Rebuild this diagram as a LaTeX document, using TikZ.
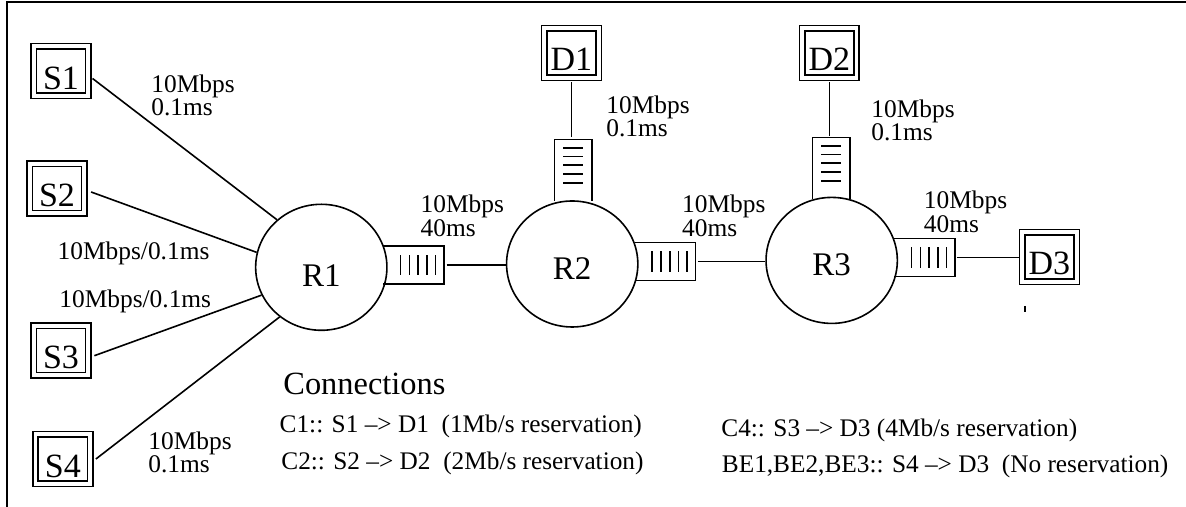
\documentclass[tikz,border=0pt]{standalone}
\usepackage{fontspec}
\setmainfont{Liberation Serif}
\usepackage{xcolor}
\usepackage{tikz}
\usetikzlibrary{shapes.geometric}

\begin{document}
\begin{tikzpicture}[
    host/.style={draw,double,line width=.8pt,double distance=1.9pt,outer sep=1.4pt,inner sep=0pt,
      minimum width=.958cm,minimum height=.872cm,text height=18pt,text depth=0pt,
      font=\fontsize{17}{17}\selectfont},
    router/.style={draw,ellipse,line width=.8pt,inner sep=0pt,minimum width=2.307cm,
      minimum height=2.214cm,text height=15.5pt,text depth=0pt,
      font=\fontsize{16.5}{17}\selectfont},
    hqueue/.style={inner sep=0pt,outer sep=0pt,minimum width=1.072cm,minimum height=.673cm},
    vqueue/.style={inner sep=0pt,outer sep=0pt,minimum width=.663cm,minimum height=1.077cm},
    link/.style={line width=.8pt},
    rate/.style={anchor=base west,inner sep=0pt,align=left,
      font=\fontsize{12.7}{12.35}\selectfont},
    conn/.style={anchor=base west,inner sep=0pt,font=\fontsize{12.65}{14}\selectfont}
  ]
  \useasboundingbox (0,0) rectangle (20.841,8.909);

  % Frame
  \draw[line width=1pt] (.13,0) -- (.13,8.869) -- (20.841,8.869);

  % Sources
  \node[host] (S1) at (1.072,7.658) {S1};
  \node[host] (S2) at (1.002,5.597) {S2};
  \node[host] (S3) at (1.072,2.750) {S3};
  \node[host] (S4) at (1.104,0.843) {S4};

  % Destinations
  \node[host] (D1) at (10.04,7.978) {D1};
  \node[host] (D2) at (14.573,7.978) {D2};
  \node[host] (D3) at (18.44,4.393) {D3};

  % Routers
  \node[router,text height=19.4pt] (R1) at (5.646,4.212) {R1};
  \node[router] (R2) at (10.055,4.270) {R2};
  \node[router] (R3) at (14.615,4.333) {R3};

  % Queues
  \node[hqueue] (qa) at (7.266,4.253) {};
  \node[hqueue] (qb) at (11.686,4.314) {};
  \node[hqueue] (qc) at (16.243,4.384) {};
  \node[vqueue] (va) at (10.073,5.917) {};
  \node[vqueue] (vb) at (14.607,5.952) {};

  \foreach \q in {qa,qb,qc} {
    \draw[link] (\q.north west) -- (\q.north east) -- (\q.south east) -- (\q.south west);
    \foreach \i in {-0.225,-0.071,0.083,0.237,0.39}
      \draw[link] ([shift={(\i,-.176)}]\q.center) -- ++(0,.352);
  }
  \foreach \q in {va,vb} {
    \draw[link] (\q.south west) -- (\q.north west) -- (\q.north east) -- (\q.south east);
    \foreach \i in {-0.22,-0.066,0.088,0.242,0.392}
      \draw[link] ([shift={(-.176,\i)}]\q.center) -- ++(.352,0);
  }

  % Source links
  \draw[link] ([xshift=.75pt,yshift=-3.65pt]S1.east) -- (R1.133);
  \draw[link] ([xshift=2pt,yshift=-1.75pt]S2.east) -- (R1.167.5);
  \draw[link] ([xshift=1.65pt,yshift=-2.6pt]S3.east) -- (R1.205);
  \draw[link] ([xshift=1.5pt]S4.east) -- (R1.230.5);

  % Links behind the queues
  \draw[link,yshift=-.5pt,shorten <=1.3pt] (qa.east) -- (qa.east -| R2.west);
  \draw[link,yshift=.6pt,shorten <=1.2pt] (qb.east) -- (qb.east -| R3.west);
  \draw[link,yshift=1.25pt,shorten <=1pt] (qc.east) -- (qc.east -| D3.west);
  \draw[link,shorten <=.8pt,shorten >=1.2pt] (D1.south) -- (D1.south |- va.north);
  \draw[link,shorten <=.8pt,shorten >=1pt] (D2.south) -- (D2.south |- vb.north);

  % Stray mark
  \draw[link] (18.01,3.532) -- (18.01,3.421);

  % Link labels
  \node[rate] (l1) at (2.654,6.876) {10Mbps\\[-.7pt]0.1ms};
  \node[rate] (l2) at (1.007,4.341) {10Mbps/0.1ms};
  \node[rate] (l3) at (1.037,3.502) {10Mbps/0.1ms};
  \node[rate] (l4) at (2.601,0.603) {10Mbps\\[-.7pt]0.1ms};
  \node[rate] (l5) at (10.649,6.502) {10Mbps\\[-.7pt]0.1ms};
  \node[rate] (l6) at (15.306,6.432) {10Mbps\\[-.7pt]0.1ms};
  \node[rate] (l7) at (7.386,4.757) {10Mbps\\[-.7pt]40ms};
  \node[rate] (l8) at (11.981,4.757) {10Mbps\\[-.7pt]40ms};
  \node[rate] (l9) at (16.229,4.827) {10Mbps\\[-.7pt]40ms};

  % Connections
  \node[conn,font=\fontsize{16.2}{18}\selectfont] (title) at (4.973,1.968) {Connections};
  \node[conn] (c1) at (4.908,1.306) {C1:: S1 –> D1~~(1Mb/s reservation)};
  \node[conn] (c2) at (4.938,0.650) {C2:: S2 –> D2~~(2Mb/s reservation)};
  \node[conn] (c4) at (12.670,1.235) {C4:: S3 –> D3 (4Mb/s reservation)};
  \node[conn] (be) at (12.679,0.603) {BE1,BE2,BE3:: S4 –> D3~~(No reservation)};

\end{tikzpicture}
\end{document}
